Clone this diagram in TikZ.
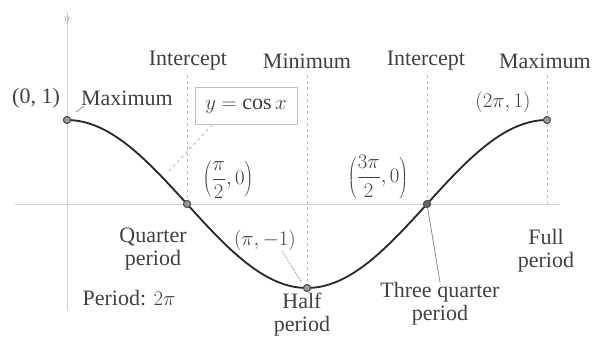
\documentclass[tikz,border=0pt]{standalone}
\usepackage{fontspec}
\setmainfont{Liberation Serif}
\begin{document}
\begin{tikzpicture}[x=1pt,y=-1pt,
  lbl/.style={font=\fontsize{22}{23}\selectfont, text=black!75, inner sep=0pt, align=center},
  mlbl/.style={font=\fontsize{20}{21}\selectfont, text=black!75, inner sep=0pt},
  guide/.style={draw=black!25, dashed, line width=0.8pt},
  axisline/.style={draw=black!18, line width=1pt},
  leader/.style={draw=black!45, line width=0.8pt},
  pt/.style={circle, draw=black!70, fill=green!20!black!45, line width=0.9pt, minimum size=7pt, inner sep=0pt}]
\useasboundingbox (0,0) rectangle (598,341);
% axes
\coordinate (xl) at (15,204); \coordinate (xr) at (560,204);
\coordinate (yt) at (67,12); \coordinate (yb) at (67,310);
\draw[axisline] (xl) -- (xr);
\draw[axisline] (yt) -- (yb);
\node[font=\fontsize{12}{12}\selectfont, text=black!40] (ylab) at (67,20) {$y$};
% points
\node[pt] (p0) at (67,120) {};
\node[pt] (p1) at (187,204) {};
\node[pt] (p2) at (307,288) {};
\node[pt, fill=black!60] (p3) at (427,204) {};
\node[pt] (p4) at (547,120) {};
% guide tops
\coordinate (g1) at (187,75); \coordinate (g2) at (307,75);
\coordinate (g3) at (427,75); \coordinate (g4) at (547,75);
\coordinate (g4b) at (547,204);
\draw[guide] (g1) -- (p1);
\draw[guide] (g2) -- (p2);
\draw[guide] (g3) -- (p3);
\draw[guide] (g4) -- (g4b);
% curve
\draw[line width=1.8pt, black!85] plot[domain=0:360, samples=120, smooth] ({67+\x*4/3}, {204-84*cos(\x)});
\node[pt] at (p0) {};\node[pt] at (p1) {};\node[pt] at (p2) {};
\node[pt, fill=black!60] at (p3) {};\node[pt] at (p4) {};
% top labels
\node[lbl] (t1) at (188,61) {Intercept};
\node[lbl] (t2) at (307,61) {Minimum};
\node[lbl] (t3) at (426,61) {Intercept};
\node[lbl] (t4) at (545,61) {Maximum};
% point labels
\node[lbl] (l01) at (36,98) {(0, 1)};
\node[lbl] (lmax) at (127,98) {Maximum};
\coordinate (lm1) at (84,106); \coordinate (lm2) at (76,112);
\draw[leader] (lm1) -- (lm2);
\node[lbl, draw=black!25, line width=0.8pt, minimum width=102pt, minimum height=37pt] (eq) at (246,106) {$y = \cos x$};
\coordinate (eqleader) at (168,172);
\draw[leader, dashed, draw=black!30] (212,125) -- (eqleader);
\node[mlbl] (lq) at (228,180) {$\displaystyle\left(\frac{\pi}{2}, 0\right)$};
\node[mlbl] (l3q) at (378,177) {$\displaystyle\left(\frac{3\pi}{2}, 0\right)$};
\node[lbl] (l2pi) at (503,102) {$(2\pi, 1)$};
\node[lbl] (lpi) at (265,240) {$(\pi, -1)$};
\coordinate (lpiend) at (302,283);
\draw[leader, densely dotted] (282,251) -- (lpiend);
% period labels
\node[lbl] (qp) at (153,249) {Quarter\\period};
\node[lbl] (per) at (129,298) {Period: $2\pi$};
\node[lbl] (hp) at (302,315) {Half\\period};
\node[lbl] (tqp) at (440,304) {Three quarter\\period};
\node[lbl] (fp) at (546,251) {Full\\period};
\draw[leader] (p3) -- (tqp.north);
\end{tikzpicture}
\end{document}
